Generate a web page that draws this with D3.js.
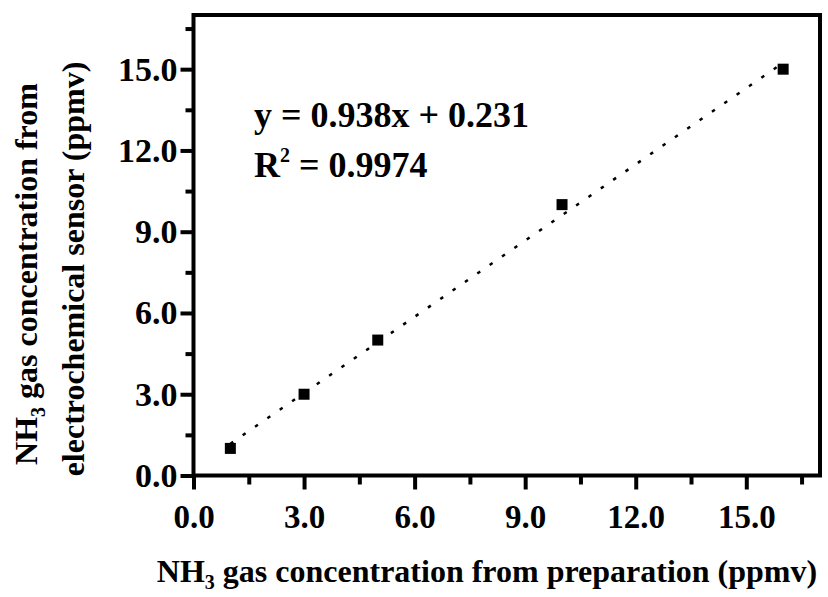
<!DOCTYPE html>
<html>
<head>
<meta charset="utf-8">
<script src="https://cdn.jsdelivr.net/npm/d3@7"></script>
<style>
  body { margin: 0; background: #fff; }
  text { font-family: "Liberation Serif", "Times New Roman", serif; font-weight: bold; fill: #000; }
</style>
</head>
<body>
<script>
// data
const prepared = [1, 3, 5, 10, 16];
const measured = [1, 3, 5, 10, 15];
const majorTicks = [0, 3, 6, 9, 12, 15];
const minorTicks = [1.5, 4.5, 7.5, 10.5, 13.5, 16.5];
const fitSlope = 0.938, fitIntercept = 0.231;
const fitRange = [1, 16];

const W = 828, H = 597;
const m = { left: 193.5, right: 8, top: 15, bottom: 121.5 };

const svg = d3.select('body').append('svg')
    .attr('width', W)
    .attr('height', H);

const x = d3.scaleLinear().domain([0, 17]).range([m.left, W - m.right]);
const y = d3.scaleLinear().domain([0, 17]).range([H - m.bottom, m.top]);
const fmt = d3.format('.1f');

// minor ticks
svg.append('g')
    .attr('transform', 'translate(0,' + y(0) + ')')
    .call(d3.axisBottom(x).tickValues(minorTicks).tickSize(9).tickFormat(''))
    .call(g => g.select('.domain').remove());
svg.append('g')
    .attr('transform', 'translate(' + x(0) + ',0)')
    .call(d3.axisLeft(y).tickValues(minorTicks).tickSize(8).tickFormat(''))
    .call(g => g.select('.domain').remove());

// major ticks
const xAxis = svg.append('g')
    .attr('transform', 'translate(0,' + y(0) + ')')
    .call(d3.axisBottom(x).tickValues(majorTicks).tickSize(14).tickPadding(15).tickFormat(fmt));
xAxis.select('.domain').remove();
xAxis.selectAll('text').style('font-size', '33px').attr('dy', '0.71em');

const yAxis = svg.append('g')
    .attr('transform', 'translate(' + x(0) + ',0)')
    .call(d3.axisLeft(y).tickValues(majorTicks).tickSize(13).tickPadding(3).tickFormat(fmt));
yAxis.select('.domain').remove();
yAxis.selectAll('text').style('font-size', '34px');

svg.selectAll('.tick line')
    .attr('stroke', '#000').attr('stroke-width', 4)
    .style('stroke', '#000').style('stroke-width', '4px');

// frame
svg.append('rect')
    .attr('x', x(0)).attr('y', y(17))
    .attr('width', x(17) - x(0)).attr('height', y(0) - y(17))
    .attr('fill', 'none').attr('stroke', '#000').attr('stroke-width', 4);

// fit line
const line = d3.line().x(d => x(d)).y(d => y(fitSlope * d + fitIntercept));
svg.append('path')
    .attr('d', line(fitRange))
    .attr('fill', 'none')
    .attr('stroke', '#000')
    .attr('stroke-width', 2.5)
    .attr('stroke-dasharray', '3.5,11.5');

// points
svg.selectAll('rect.pt')
    .data(prepared)
    .enter().append('rect')
    .attr('class', 'pt')
    .attr('x', d => x(d) - 5.5)
    .attr('y', (d, i) => y(measured[i]) - 5.5)
    .attr('width', 11).attr('height', 11)
    .attr('fill', '#000');

// equation
svg.append('text')
    .attr('x', 254).attr('y', 127)
    .style('font-size', '36px')
    .text('y = 0.938x + 0.231');
const r2 = svg.append('text')
    .attr('x', 254).attr('y', 177)
    .style('font-size', '36px');
r2.append('tspan').text('R');
r2.append('tspan').attr('dy', -15).style('font-size', '20px').text('2');
r2.append('tspan').attr('dy', 15).text(' = 0.9974');

// x label
const xl = svg.append('text')
    .attr('x', 487).attr('y', 582)
    .attr('text-anchor', 'middle')
    .style('font-size', '32px');
xl.append('tspan').text('NH');
xl.append('tspan').attr('dy', 7).style('font-size', '20px').text('3');
xl.append('tspan').attr('dy', -7).text(' gas concentration from preparation (ppmv)');

// y label (two lines)
const yl = svg.append('text')
    .attr('transform', 'translate(37,274) rotate(-90)')
    .attr('text-anchor', 'middle')
    .style('font-size', '32px');
yl.append('tspan').text('NH');
yl.append('tspan').attr('dy', 8).style('font-size', '20px').text('3');
yl.append('tspan').attr('dy', -8).text(' gas concentration from');

svg.append('text')
    .attr('transform', 'translate(84,269) rotate(-90)')
    .attr('text-anchor', 'middle')
    .style('font-size', '32px')
    .text('electrochemical sensor (ppmv)');
</script>
</body>
</html>
